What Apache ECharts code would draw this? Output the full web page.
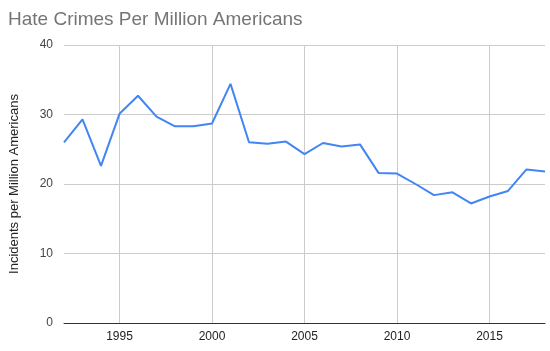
<!DOCTYPE html>
<html>
<head>
<meta charset="utf-8">
<script src="https://cdn.jsdelivr.net/npm/echarts@6/dist/echarts.min.js"></script>
<style>
  html, body { margin: 0; padding: 0; background: #fff; }
  #chart { width: 550px; height: 351px; }
</style>
</head>
<body>
<div id="chart"></div>
<script>
// years and values
var years = [1992, 1993, 1994, 1995, 1996, 1997, 1998, 1999, 2000, 2001,
             2002, 2003, 2004, 2005, 2006, 2007, 2008, 2009, 2010, 2011,
             2012, 2013, 2014, 2015, 2016, 2017, 2018];
var incidents = [26.0, 29.3, 22.6, 30.1, 32.7, 29.7, 28.3, 28.3, 28.7, 34.4,
                 26.0, 25.8, 26.1, 24.3, 25.9, 25.4, 25.7, 21.6, 21.5, 20.0,
                 18.4, 18.8, 17.2, 18.2, 19.0, 22.1, 21.8];
var yTicks = [0, 10, 20, 30, 40];

var font = '"Liberation Sans", Arial, Helvetica, sans-serif';
var chart = echarts.init(document.getElementById('chart'));

var everyFive = function (idx, val) {
  return Number(val) % 5 === 0;
};

var option = {
  animation: false,
  title: {
    text: 'Hate Crimes Per Million Americans',
    left: 3,
    top: 5,
    textStyle: {
      fontFamily: font,
      fontSize: 19,
      fontWeight: 'normal',
      color: '#757575'
    }
  },
  grid: { left: 61, right: 5, top: 45, bottom: 28 },
  xAxis: {
    type: 'category',
    data: years,
    boundaryGap: false,
    axisLine: { lineStyle: { color: '#333', width: 1 } },
    axisTick: { show: false },
    axisLabel: {
      interval: everyFive,
      color: '#222',
      fontSize: 12,
      fontFamily: font,
      margin: 8
    },
    splitLine: {
      show: true,
      interval: everyFive,
      lineStyle: { color: '#ccc' }
    }
  },
  yAxis: {
    type: 'value',
    min: yTicks[0],
    max: yTicks[yTicks.length - 1],
    interval: 10,
    name: 'Incidents per Million Americans',
    nameLocation: 'middle',
    nameGap: 43,
    nameTextStyle: {
      fontFamily: font,
      fontSize: 13,
      color: '#222'
    },
    axisLine: { show: false },
    axisTick: { show: false },
    axisLabel: {
      color: '#444',
      fontSize: 12,
      fontFamily: font,
      margin: 11
    },
    splitLine: { lineStyle: { color: '#ccc' } }
  },
  series: [{
    type: 'line',
    data: incidents,
    showSymbol: false,
    lineStyle: { color: '#4285f4', width: 2 },
    itemStyle: { color: '#4285f4' }
  }]
};

chart.setOption(option);
</script>
</body>
</html>
